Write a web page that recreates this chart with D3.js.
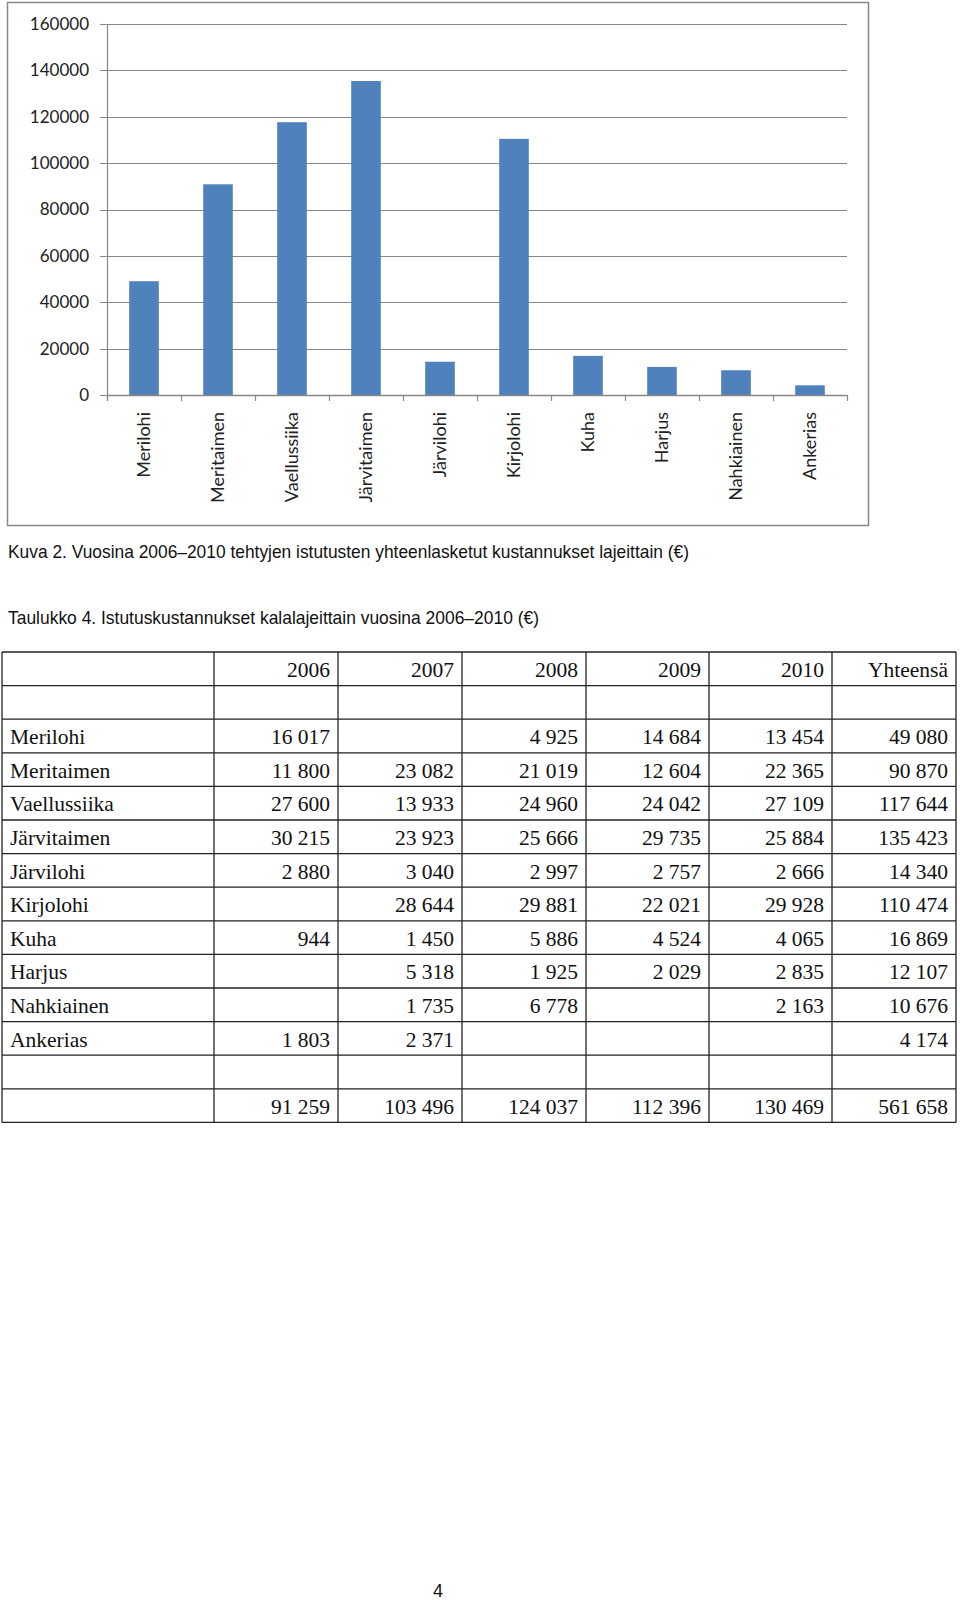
<!DOCTYPE html>
<html>
<head>
<meta charset="utf-8">
<script src="https://cdn.jsdelivr.net/npm/d3@7"></script>
<style>
  html, body { margin: 0; padding: 0; background: #fff; }
  svg { display: block; }
</style>
</head>
<body>
<svg id="page" width="960" height="1600"></svg>
<script>
// ---------- data ----------
const categories = ["Merilohi", "Meritaimen", "Vaellussiika", "Järvitaimen", "Järvilohi", "Kirjolohi", "Kuha", "Harjus", "Nahkiainen", "Ankerias"];
const totals = [49080, 90870, 117644, 135423, 14340, 110474, 16869, 12107, 10676, 4174];
const yTicks = [0, 20000, 40000, 60000, 80000, 100000, 120000, 140000, 160000];

const tableHeaders = ["2006", "2007", "2008", "2009", "2010", "Yhteensä"];
const v2006 = [16017, 11800, 27600, 30215, 2880, null, 944, null, null, 1803];
const v2007 = [null, 23082, 13933, 23923, 3040, 28644, 1450, 5318, 1735, 2371];
const v2008 = [4925, 21019, 24960, 25666, 2997, 29881, 5886, 1925, 6778, null];
const v2009 = [14684, 12604, 24042, 29735, 2757, 22021, 4524, 2029, null, null];
const v2010 = [13454, 22365, 27109, 25884, 2666, 29928, 4065, 2835, 2163, null];
const columnTotals = [91259, 103496, 124037, 112396, 130469, 561658];

const figureCaption = "Kuva 2. Vuosina 2006\u20132010 tehtyjen istutusten yhteenlasketut kustannukset lajeittain (\u20ac)";
const tableCaption = "Taulukko 4. Istutuskustannukset kalalajeittain vuosina 2006\u20132010 (\u20ac)";
const pageNumber = "4";

// ---------- drawing ----------
const svg = d3.select("#page");
svg.append("rect").attr("width", 960).attr("height", 1600).attr("fill", "#fff");

const gray = "#878787";
const chartFont = "Lato, 'Open Sans', sans-serif";

// chart frame
svg.append("rect")
  .attr("x", 7.5).attr("y", 2.5).attr("width", 861).attr("height", 523)
  .attr("fill", "none").attr("stroke", gray).attr("stroke-width", 1.5);

const x = d3.scaleBand().domain(categories).range([107, 847]).paddingInner(0.6).paddingOuter(0.3);
const y = d3.scaleLinear().domain([0, 160000]).range([395, 24]);

const chart = svg.append("g");

// gridlines + y ticks
chart.selectAll("line.grid").data(yTicks).enter().append("line")
  .attr("class", "grid")
  .attr("x1", 100).attr("x2", 847)
  .attr("y1", d => Math.round(y(d)) + 0.5).attr("y2", d => Math.round(y(d)) + 0.5)
  .attr("stroke", gray).attr("stroke-width", 1.2);

chart.selectAll("text.ylab").data(yTicks).enter().append("text")
  .attr("class", "ylab")
  .attr("x", 89).attr("y", d => y(d))
  .attr("dy", "0.35em")
  .attr("text-anchor", "end")
  .attr("font-family", chartFont).attr("font-size", 17).attr("fill", "#222")
  .text(d => d);

// bars
chart.selectAll("rect.bar").data(categories).enter().append("rect")
  .attr("class", "bar")
  .attr("x", d => x(d)).attr("width", x.bandwidth())
  .attr("y", (d, i) => y(totals[i])).attr("height", (d, i) => y(0) - y(totals[i]))
  .attr("fill", "#4F81BD");

// axes lines
chart.append("line").attr("x1", 107.5).attr("x2", 107.5).attr("y1", y(160000)).attr("y2", y(0) + 6)
  .attr("stroke", gray).attr("stroke-width", 1.2);
chart.append("line").attr("x1", 107).attr("x2", 847).attr("y1", Math.round(y(0)) + 0.5).attr("y2", Math.round(y(0)) + 0.5)
  .attr("stroke", gray).attr("stroke-width", 1.5);

// x ticks at band boundaries
const step = x.step();
const boundaries = d3.range(categories.length + 1).map(i => x.range()[0] + i * step);
chart.selectAll("line.xtick").data(boundaries).enter().append("line")
  .attr("class", "xtick")
  .attr("x1", d => Math.round(d) + 0.5).attr("x2", d => Math.round(d) + 0.5)
  .attr("y1", y(0)).attr("y2", y(0) + 6)
  .attr("stroke", gray).attr("stroke-width", 1.2);

// x labels rotated
chart.selectAll("text.xlab").data(categories).enter().append("text")
  .attr("class", "xlab")
  .attr("transform", d => `translate(${x(d) + x.bandwidth() / 2},412) rotate(-90)`)
  .attr("dy", "0.35em")
  .attr("text-anchor", "end")
  .attr("font-family", chartFont).attr("font-size", 18).attr("fill", "#222")
  .text(d => d);

// captions
const capFont = "'Liberation Sans', Arial, sans-serif";
svg.append("text").attr("x", 8).attr("y", 558)
  .attr("font-family", capFont).attr("font-size", 19).attr("fill", "#111")
  .attr("textLength", 681).attr("lengthAdjust", "spacingAndGlyphs")
  .text(figureCaption);
svg.append("text").attr("x", 8).attr("y", 624)
  .attr("font-family", capFont).attr("font-size", 19).attr("fill", "#111")
  .attr("textLength", 531).attr("lengthAdjust", "spacingAndGlyphs")
  .text(tableCaption);

// ---------- table ----------
const fmt = v => (v == null ? "" : d3.format(",")(v).replace(/,/g, " "));
const colEdges = [2, 214, 338, 462, 586, 709, 832, 956];
const rowTop = 652, rowH = 33.6;
const yearCols = [v2006, v2007, v2008, v2009, v2010, totals];

const rows = [];
rows.push({ label: "", cells: tableHeaders });
rows.push({ label: "", cells: ["", "", "", "", "", ""] });
categories.forEach((c, i) => rows.push({ label: c, cells: yearCols.map(col => fmt(col[i])) }));
rows.push({ label: "", cells: ["", "", "", "", "", ""] });
rows.push({ label: "", cells: columnTotals.map(fmt) });

const tbl = svg.append("g");
const nRows = rows.length;
const tableBottom = rowTop + nRows * rowH;
const lineColor = "#222";

// horizontal lines
d3.range(nRows + 1).forEach(i => {
  tbl.append("line")
    .attr("x1", colEdges[0]).attr("x2", colEdges[colEdges.length - 1])
    .attr("y1", rowTop + i * rowH).attr("y2", rowTop + i * rowH)
    .attr("stroke", lineColor).attr("stroke-width", 1.3);
});
// vertical lines
colEdges.forEach(cx => {
  tbl.append("line")
    .attr("x1", cx).attr("x2", cx)
    .attr("y1", rowTop).attr("y2", tableBottom)
    .attr("stroke", lineColor).attr("stroke-width", 1.3);
});

const tFont = "'Liberation Serif', 'Times New Roman', serif";
rows.forEach((r, i) => {
  const by = rowTop + i * rowH + 25;
  if (r.label) {
    tbl.append("text").attr("x", 10).attr("y", by)
      .attr("font-family", tFont).attr("font-size", 21.5).attr("fill", "#111")
      .text(r.label);
  }
  r.cells.forEach((c, j) => {
    if (!c) return;
    tbl.append("text").attr("x", colEdges[j + 2] - 8).attr("y", by)
      .attr("text-anchor", "end")
      .attr("font-family", tFont).attr("font-size", 21.5).attr("fill", "#111")
      .text(c);
  });
});

// page number
svg.append("text").attr("x", 438).attr("y", 1597)
  .attr("text-anchor", "middle")
  .attr("font-family", capFont).attr("font-size", 18).attr("fill", "#111")
  .text(pageNumber);
</script>
</body>
</html>
